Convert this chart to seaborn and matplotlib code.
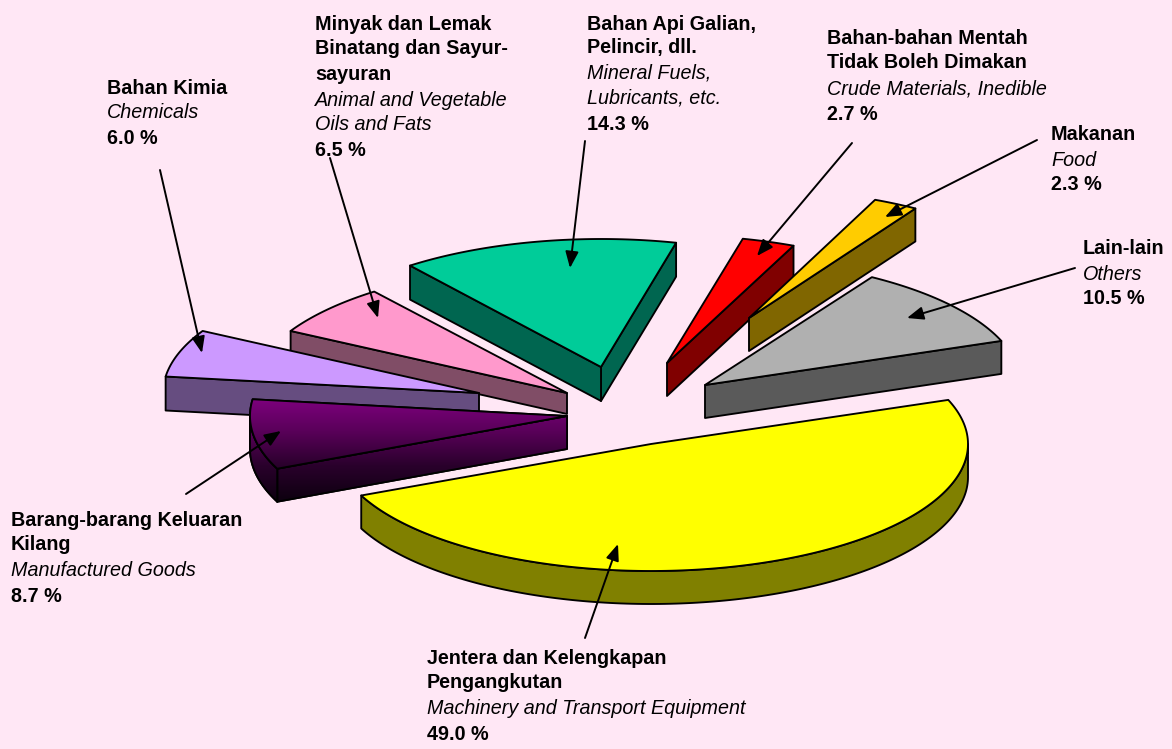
import numpy as np
import matplotlib
matplotlib.use("Agg")
import matplotlib.pyplot as plt
from matplotlib.patches import Polygon, FancyArrowPatch
from matplotlib.colors import LinearSegmentedColormap
import seaborn as sns

# ---- data (clockwise from the top) ----
names_ms = [["Bahan Api Galian,", "Pelincir, dll."],
            ["Bahan-bahan Mentah", "Tidak Boleh Dimakan"],
            ["Makanan"],
            ["Lain-lain"],
            ["Jentera dan Kelengkapan", "Pengangkutan"],
            ["Barang-barang Keluaran", "Kilang"],
            ["Bahan Kimia"],
            ["Minyak dan Lemak", "Binatang dan Sayur-", "sayuran"]]
names_en = [["Mineral Fuels,", "Lubricants, etc."],
            ["Crude Materials, Inedible"],
            ["Food"],
            ["Others"],
            ["Machinery and Transport Equipment"],
            ["Manufactured Goods"],
            ["Chemicals"],
            ["Animal and Vegetable", "Oils and Fats"]]
shares = [14.3, 2.7, 2.3, 10.5, 49.0, 8.7, 6.0, 6.5]
top_colors = ["#00CC99", "#FF0000", "#FFCC00", "#B0B0B0", "#FFFF00", "#800080", "#CC99FF", "#FF99CC"]
side_colors = ["#006650", "#800000", "#806600", "#5A5A5A", "#808000", "#3A003A", "#664D80", "#804D66"]

# ---- layout of the exploded slices (pixels) ----
start_angle = 127.6
apex_x = [601, 667, 749, 705, 651, 567, 479, 567]
apex_y = [367, 363, 318, 385, 444, 416, 393, 393]
radius_x = [313, 316, 315, 316, 317, 317, 316, 316]
radius_y = [128, 128, 129, 127, 127, 130, 128, 128]
depth = [34, 33, 33, 33, 33, 33, 34, 21]
draw_order = [0, 1, 2, 3, 7, 6, 5, 4]
gradient_slice = 5
text_x = [587, 827, 1051, 1083, 427, 11, 107, 315]
text_y = [[24, 48, 73, 98, 124], [38, 63, 89, 115], [135, 160, 185], [248, 274, 299],
          [658, 683, 709, 735], [520, 544, 570, 596], [88, 113, 138], [24, 49, 74, 100, 125, 151]]
arrow_from = [(585, 141), (852, 143), (1037, 140), (1075, 268), (585, 638), (186, 494), (160, 170), (330, 158)]
arrow_to = [(570, 268), (757, 256), (885, 217), (907, 318), (618, 544), (281, 431), (202, 353), (378, 318)]

BG = "#FFE7F5"
sns.set_theme(style="white", rc={"figure.facecolor": BG, "axes.facecolor": BG})
FS = 14.2
plt.rcParams["font.family"] = ["Liberation Sans", "DejaVu Sans"]

fig = plt.figure(figsize=(11.72, 7.49), dpi=100)
ax = fig.add_axes([0, 0, 1, 1])
ax.set_xlim(0, 1172)
ax.set_ylim(749, 0)
ax.axis("off")

tops = sns.color_palette(top_colors)
sides = sns.color_palette(side_colors)
LW = 1.35
spans = np.array(shares) / 100 * 360
a_end = start_angle - np.concatenate([[0], np.cumsum(spans[:-1])])
a_start = a_end - spans
grad_cmap = LinearSegmentedColormap.from_list("g", ["#800080", "#5A005A", "#2A002C", "#0E0010"])


def pt(i, a, dz=0.0):
    r = np.radians(a)
    return (apex_x[i] + radius_x[i] * np.cos(r), apex_y[i] - radius_y[i] * np.sin(r) + dz)


def arc(i, a0, a1, dz=0.0):
    n = max(int(abs(a1 - a0)) + 2, 3)
    return [pt(i, a, dz) for a in np.linspace(a0, a1, n)]


def add_face(i, verts, color, z):
    poly = Polygon(verts, closed=True, facecolor=color, edgecolor="black",
                   linewidth=LW, joinstyle="round", zorder=z)
    ax.add_patch(poly)
    if i == gradient_slice:
        img = ax.imshow(np.linspace(0, 1, 256).reshape(-1, 1), cmap=grad_cmap, aspect="auto",
                        extent=(200, 600, 500, 396), zorder=z + 0.01)
        img.set_clip_path(poly)
        ax.set_xlim(0, 1172)
        ax.set_ylim(749, 0)
        ax.add_patch(Polygon(verts, closed=True, fill=False, edgecolor="black",
                             linewidth=LW, joinstyle="round", zorder=z + 0.02))


for k, i in enumerate(draw_order):
    a1, a2 = a_start[i], a_end[i]
    d = depth[i]
    z = 2 + k
    ap = (apex_x[i], apex_y[i])
    apd = (apex_x[i], apex_y[i] + d)
    # radial walls that face the viewer
    if np.cos(np.radians(a1)) > 0:
        p = pt(i, a1)
        add_face(i, [ap, p, (p[0], p[1] + d), apd], sides[i], z)
    if np.cos(np.radians(a2)) < 0:
        p = pt(i, a2)
        add_face(i, [ap, p, (p[0], p[1] + d), apd], sides[i], z + 0.1)
    # outer wall: the part of the rim on the near half of the ellipse
    b0, b1 = max(a1, -180), min(a2, 0)
    if b1 > b0:
        add_face(i, arc(i, b0, b1) + arc(i, b1, b0, d), sides[i], z + 0.2)
    # top face
    add_face(i, [ap] + arc(i, a1, a2), tops[i], z + 0.5)

for i in range(len(shares)):
    lines = [(t, "bold", "normal") for t in names_ms[i]]
    lines += [(t, "normal", "italic") for t in names_en[i]]
    lines += [(f"{shares[i]:.1f} %", "bold", "normal")]
    for (t, w, st), y in zip(lines, text_y[i]):
        ax.text(text_x[i], y, t, fontsize=FS, fontweight=w, fontstyle=st, color="black",
                ha="left", va="center", zorder=30)
    ax.add_patch(FancyArrowPatch(arrow_from[i], arrow_to[i],
                                 arrowstyle="-|>,head_length=0.9,head_width=0.36",
                                 mutation_scale=11, shrinkA=0, shrinkB=0,
                                 color="black", linewidth=1.4, zorder=25))

fig.savefig("out.png", dpi=100, facecolor=BG)
